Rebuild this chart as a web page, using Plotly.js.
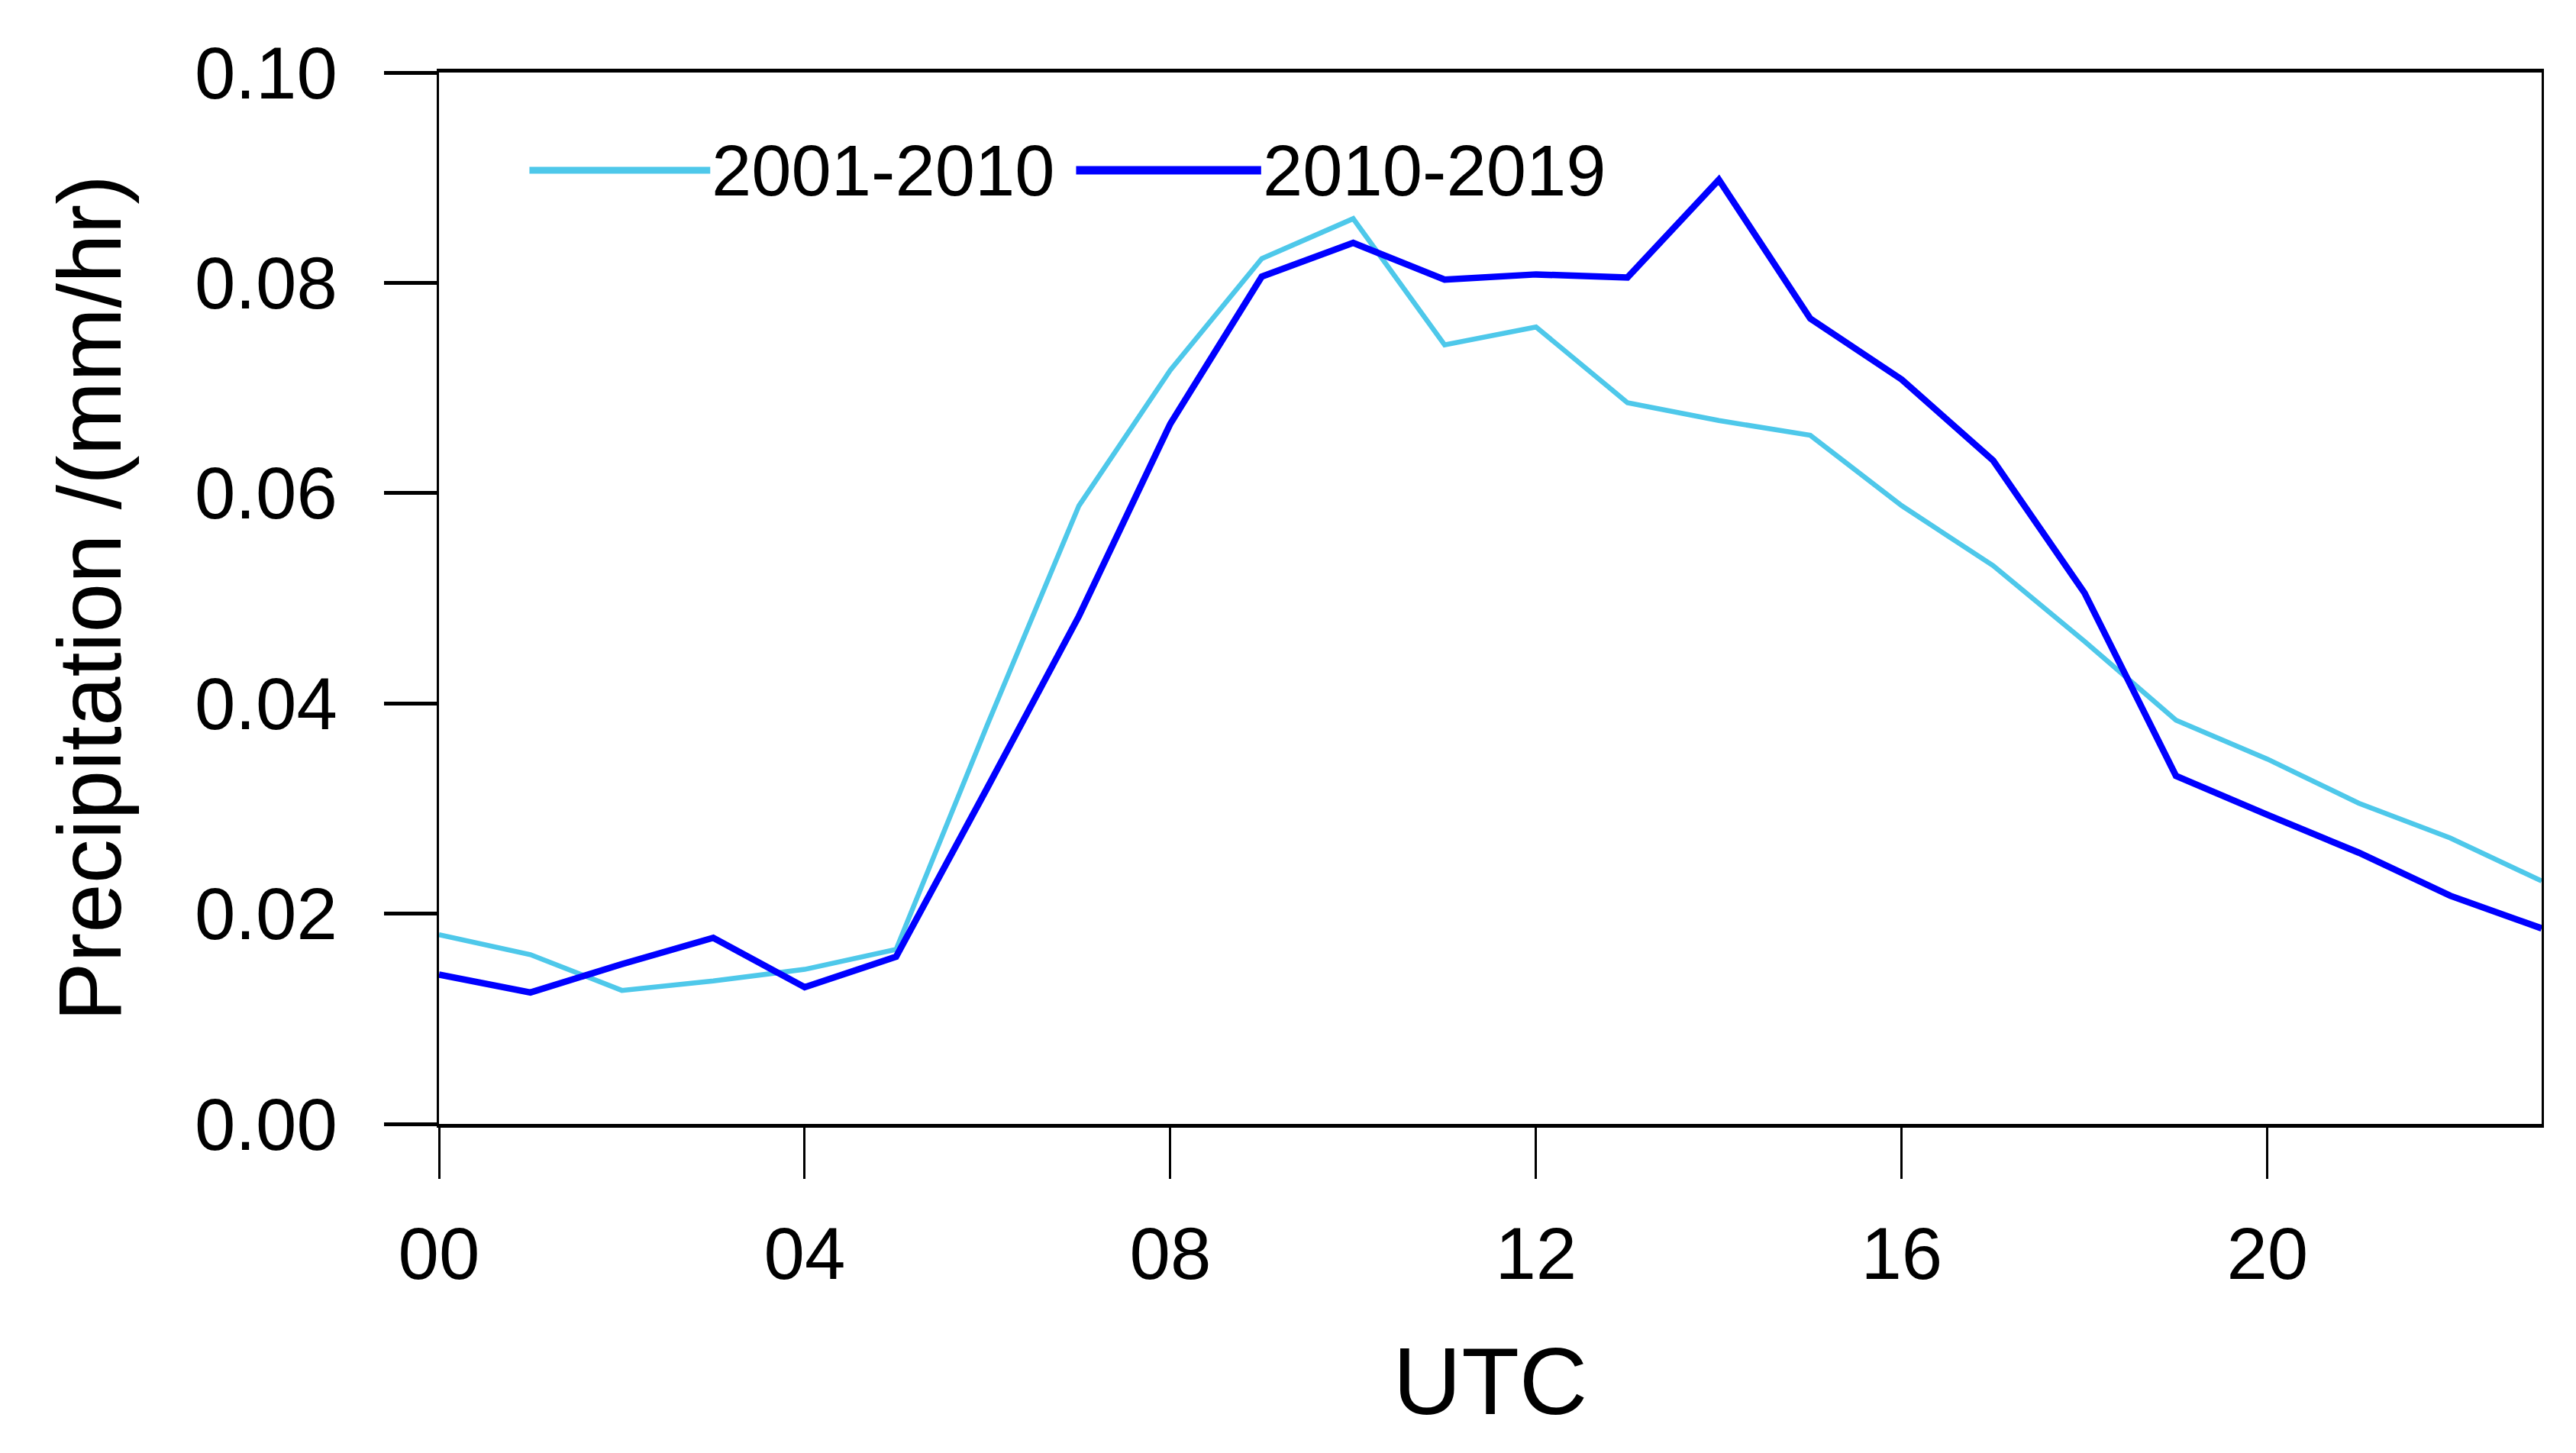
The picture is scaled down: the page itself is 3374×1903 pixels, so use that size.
<script src="https://cdn.plot.ly/plotly-3.0.1.min.js"></script>
<style>
  html, body { margin: 0; padding: 0; background: #fff; }
</style>
<div id="chart" style="width:3374px;height:1903px;"></div>
<script>
  // hours (UTC)
  const hours = [0,1,2,3,4,5,6,7,8,9,10,11,12,13,14,15,16,17,18,19,20,21,22,23];

  // mean precipitation (mm/hr)
  const precip2001_2010 = [0.0180,0.0161,0.0127,0.0136,0.0147,0.0166,0.0380,0.0588,0.0717,0.0823,
                           0.0861,0.0741,0.0758,0.0686,0.0669,0.0655,0.0588,0.0531,0.0459,0.0384,
                           0.0347,0.0305,0.0272,0.0231];
  const precip2010_2019 = [0.0142,0.0125,0.0152,0.0177,0.0130,0.0159,0.0320,0.0483,0.0666,0.0806,
                           0.0838,0.0803,0.0808,0.0805,0.0898,0.0766,0.0708,0.0631,0.0505,0.0331,
                           0.0294,0.0258,0.0217,0.0186];

  const seriesNames = ['2001-2010', '2010-2019'];
  const seriesColors = ['#4ec8ea', '#0000ff'];

  const xTickVals = [0, 4, 8, 12, 16, 20];
  const xTickText = ['00', '04', '08', '12', '16', '20'];
  const yTickVals = [0, 0.02, 0.04, 0.06, 0.08, 0.10];

  const font = 'Liberation Sans, Arial, Helvetica, sans-serif';

  const traces = [
    {
      x: hours, y: precip2001_2010, name: seriesNames[0],
      type: 'scatter', mode: 'lines',
      line: { color: seriesColors[0], width: 6.5 }
    },
    {
      x: hours, y: precip2010_2019, name: seriesNames[1],
      type: 'scatter', mode: 'lines',
      line: { color: seriesColors[1], width: 8.5 }
    }
  ];

  // legend drawn by hand: long line samples that touch the text, as in the figure
  const legendY = 0.907;
  const legendItems = [
    { x0: 0.043, x1: 0.129 },
    { x0: 0.303, x1: 0.391 }
  ];
  const shapes = legendItems.map((it, i) => ({
    type: 'line', xref: 'paper', yref: 'paper',
    x0: it.x0, x1: it.x1, y0: legendY, y1: legendY,
    line: { color: seriesColors[i], width: i === 0 ? 9 : 11 }
  }));
  const annotations = legendItems.map((it, i) => ({
    xref: 'paper', yref: 'paper', x: it.x1, y: legendY,
    xanchor: 'left', yanchor: 'middle', showarrow: false,
    text: seriesNames[i], font: { family: font, size: 94, color: '#000' }
  }));

  const layout = {
    width: 3374, height: 1903,
    margin: { l: 575, r: 45, t: 95, b: 431 },
    paper_bgcolor: '#fff', plot_bgcolor: '#fff',
    showlegend: false,
    font: { family: font, color: '#000' },
    xaxis: {
      range: [0, 23], tickvals: xTickVals, ticktext: xTickText,
      ticks: 'outside', ticklen: 67, tickwidth: 3, tickcolor: '#000',
      ticklabelstandoff: 16,
      showline: true, linecolor: '#000', linewidth: 5, mirror: true,
      showgrid: false, zeroline: false, automargin: true,
      tickfont: { family: font, size: 96 },
      title: { text: 'UTC', font: { family: font, size: 124 }, standoff: 72 }
    },
    yaxis: {
      range: [0, 0.10], tickvals: yTickVals, tickformat: '.2f',
      ticks: 'outside', ticklen: 69, tickwidth: 5, tickcolor: '#000',
      ticklabelstandoff: 42,
      showline: true, linecolor: '#000', linewidth: 3, mirror: true,
      showgrid: false, zeroline: false,
      tickfont: { family: font, size: 96 },
      title: { text: 'Precipitation /(mm/hr)', font: { family: font, size: 116 }, standoff: 58 }
    },
    shapes: shapes,
    annotations: annotations
  };

  Plotly.newPlot('chart', traces, layout, { displayModeBar: false, staticPlot: true });
</script>
